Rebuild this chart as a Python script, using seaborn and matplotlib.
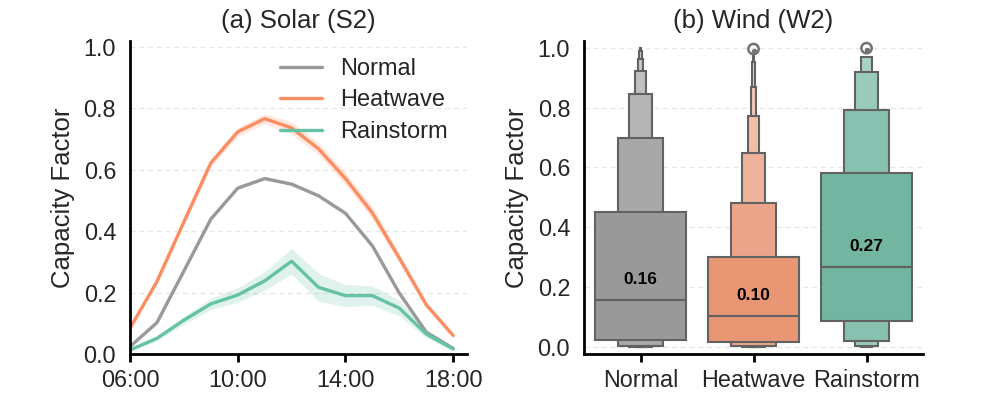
import matplotlib
matplotlib.use("Agg")
import matplotlib.pyplot as plt
import numpy as np
import pandas as pd
import seaborn as sns

# ---------------- data ----------------
conditions = ["Normal", "Heatwave", "Rainstorm"]
hours = [6, 7, 8, 9, 10, 11, 12, 13, 14, 15, 16, 17, 18]
hour_ticks = [6, 10, 14, 18]
hour_labels = ["06:00", "10:00", "14:00", "18:00"]

solar_normal = [0.024, 0.102, 0.27, 0.439, 0.540, 0.571, 0.553, 0.515, 0.458, 0.352, 0.198, 0.071, 0.018]
solar_heatwave = [0.084, 0.236, 0.43, 0.622, 0.723, 0.766, 0.736, 0.668, 0.571, 0.459, 0.312, 0.160, 0.060]
solar_rainstorm = [0.013, 0.051, 0.11, 0.163, 0.192, 0.238, 0.302, 0.217, 0.190, 0.190, 0.149, 0.065, 0.016]

band_normal = [0.003, 0.004, 0.004, 0.005, 0.005, 0.005, 0.005, 0.005, 0.005, 0.005, 0.004, 0.003, 0.002]
band_heatwave = [0.005, 0.008, 0.01, 0.012, 0.015, 0.016, 0.02, 0.02, 0.02, 0.02, 0.015, 0.01, 0.005]
band_rainstorm = [0.004, 0.008, 0.013, 0.018, 0.024, 0.03, 0.042, 0.045, 0.036, 0.032, 0.025, 0.013, 0.005]

# wind letter values (centre box outward)
wind_normal_lo = [0.024, 0.003, 0.0, 0.0, 0.0, 0.0, 0.0]
wind_normal_hi = [0.451, 0.698, 0.846, 0.922, 0.962, 0.987, 1.0]
wind_heatwave_lo = [0.017, 0.003, 0.0, 0.0, 0.0, 0.0, 0.0]
wind_heatwave_hi = [0.300, 0.483, 0.648, 0.772, 0.869, 0.953, 0.98]
wind_rainstorm_lo = [0.087, 0.021, 0.003, 0.0]
wind_rainstorm_hi = [0.580, 0.792, 0.917, 0.967]
wind_medians = [0.157, 0.104, 0.268]
wind_fliers = [[], [0.995], [0.998]]

# ---------------- style ----------------
sns.set_theme(style="ticks")
plt.rcParams["font.family"] = ["Liberation Sans", "DejaVu Sans"]
text_color = "#262626"
line_colors = ["#999999", "#fc8d62", "#66c2a5"]
box_base = [sns.desaturate(c, 0.75) for c in line_colors]
edge_color = "#626262"

fig = plt.figure(figsize=(9.97, 3.96), dpi=100)
ax1 = fig.add_axes([0.1304, 0.1061, 0.3377, 0.7912])
ax2 = fig.add_axes([0.5858, 0.1061, 0.3400, 0.7912])

# ---------------- (a) solar ----------------
df = pd.DataFrame({
    "hour": hours * 3,
    "cf": solar_normal + solar_heatwave + solar_rainstorm,
    "cond": [c for c in conditions for _ in hours],
})
sns.lineplot(data=df, x="hour", y="cf", hue="cond", hue_order=conditions,
             palette=line_colors, linewidth=2.4, ax=ax1, errorbar=None)
for vals, band, col in zip([solar_normal, solar_heatwave, solar_rainstorm],
                           [band_normal, band_heatwave, band_rainstorm], line_colors):
    v = np.array(vals)
    b = np.array(band)
    ax1.fill_between(hours, v - b, v + b, color=col, alpha=0.2, linewidth=0)

ax1.set_xlim(6, 18.5)
ax1.set_ylim(0, 1.02)
ax1.set_xticks(hour_ticks)
ax1.set_xticklabels(hour_labels)
ax1.set_yticks([0, 0.2, 0.4, 0.6, 0.8, 1.0])
ax1.set_xlabel("")
ax1.set_ylabel("Capacity Factor", fontsize=18.5, color=text_color, labelpad=6)
ax1.set_title("(a) Solar (S2)", fontsize=18.5, color=text_color, pad=9)
leg = ax1.legend(frameon=False, fontsize=17, loc="upper right",
                 bbox_to_anchor=(0.985, 0.99), handlelength=1.8, handletextpad=0.75,
                 labelspacing=0.4, borderaxespad=0.2)
for t in leg.get_texts():
    t.set_color(text_color)

# ---------------- (b) wind ----------------
los = [wind_normal_lo, wind_heatwave_lo, wind_rainstorm_lo]
his = [wind_normal_hi, wind_heatwave_hi, wind_rainstorm_hi]
for i in range(3):
    n = len(los[i])
    for lvl in range(n - 1, -1, -1):
        t = 1 - 0.85 ** lvl
        base = np.array(matplotlib.colors.to_rgb(box_base[i]))
        col = base * (1 - t) + np.ones(3) * t
        w = 0.8 / (2 ** lvl)
        ax2.bar(i, his[i][lvl] - los[i][lvl], bottom=los[i][lvl], width=w,
                color=col, edgecolor=edge_color, linewidth=1.5, zorder=3 + (n - lvl) * 0.01)
    ax2.plot([i - 0.4, i + 0.4], [wind_medians[i], wind_medians[i]],
             color=edge_color, linewidth=1.6, zorder=4)
    if wind_fliers[i]:
        ax2.scatter([i] * len(wind_fliers[i]), wind_fliers[i], s=55, facecolor="none",
                    edgecolor="#737373", linewidth=1.8, zorder=4)
        ax2.scatter([i] * len(wind_fliers[i]), [f - 0.006 for f in wind_fliers[i]], s=8,
                    color="#737373", zorder=4)
    ax2.text(i, wind_medians[i] + 0.07, f"{wind_medians[i]:.2f}", ha="center", va="center",
             fontsize=12.5, fontweight="bold", color="black", zorder=5)

ax2.set_xlim(-0.5, 2.5)
ax2.set_ylim(-0.022, 1.023)
ax2.set_xticks([0, 1, 2])
ax2.set_xticklabels(conditions)
ax2.set_yticks([0, 0.2, 0.4, 0.6, 0.8, 1.0])
ax2.set_ylabel("Capacity Factor", fontsize=18.5, color=text_color, labelpad=6)
ax2.set_title("(b) Wind (W2)", fontsize=18.5, color=text_color, pad=9)

for ax in (ax1, ax2):
    sns.despine(ax=ax)
    ax.grid(axis="y", linestyle=(0, (4, 3)), color="#e6e6e6", linewidth=0.9, zorder=0)
    ax.set_axisbelow(True)
    for s in ("left", "bottom"):
        ax.spines[s].set_color("black")
        ax.spines[s].set_linewidth(2.0)
    ax.tick_params(axis="y", length=0, pad=10, labelsize=16.8, labelcolor=text_color)
    ax.tick_params(axis="x", length=6, width=2.0, color="black", pad=5,
                   labelsize=16.8, labelcolor=text_color)
    ax.yaxis.set_major_formatter(matplotlib.ticker.FormatStrFormatter("%.1f"))

fig.savefig("out.png", dpi=100)
